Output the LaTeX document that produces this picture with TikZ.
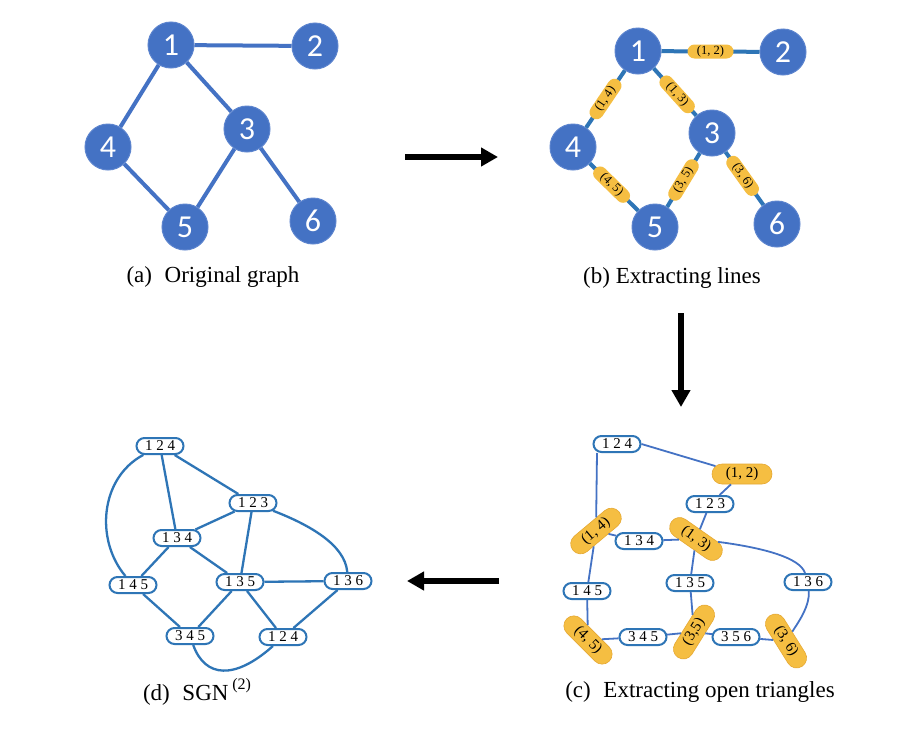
\documentclass[tikz,border=0pt]{standalone}
\usepackage{fontspec}
\setmainfont{Liberation Serif}
\newfontfamily\digitfont{Carlito}
\usetikzlibrary{shapes.misc,arrows.meta}
\definecolor{nodeblue}{RGB}{68,114,196}
\definecolor{noderim}{RGB}{92,132,206}
\definecolor{edgeblue}{RGB}{46,117,182}
\definecolor{pillgold}{RGB}{245,190,66}
\definecolor{pillgoldline}{RGB}{230,168,50}
\begin{document}
\begin{tikzpicture}[x=1pt,y=-1pt,
 vert/.style={circle,fill=nodeblue,draw=noderim,line width=1pt,minimum size=46pt,inner sep=0pt,text=white,font=\digitfont\fontsize{32}{32}\selectfont},
 gedge/.style={draw=nodeblue,line width=4pt},
 bedge/.style={draw=edgeblue,line width=4pt},
 bpill/.style={rounded rectangle,fill=pillgold,minimum width=46pt,minimum height=14pt,inner sep=0pt,font=\fontsize{12.5}{12.5}\selectfont},
 cpill/.style={rounded rectangle,fill=pillgold,draw=pillgoldline,line width=0.6pt,minimum width=60pt,minimum height=20pt,inner sep=0pt,font=\fontsize{15}{15}\selectfont},
 wpill/.style={rounded rectangle,fill=white,draw=edgeblue,line width=2pt,minimum width=47pt,minimum height=16pt,inner sep=0pt,font=\fontsize{15}{15}\selectfont},
 cline/.style={draw=nodeblue,line width=1.8pt},
 dline/.style={draw=edgeblue,line width=2.3pt},
 bigarrow/.style={draw=black,line width=6pt,-{Triangle[length=17pt,width=18pt]}},
 caption/.style={font=\fontsize{23}{23}\selectfont,inner sep=0pt}
]
\useasboundingbox[fill=white] (0,0) rectangle (922,750);

% ---------- (a) original graph ----------
\node[vert] (a1) at (171,45) {1};
\node[vert] (a2) at (315,46) {2};
\node[vert] (a3) at (247,129) {3};
\node[vert] (a4) at (108,147) {4};
\node[vert] (a5) at (185,227) {5};
\node[vert] (a6) at (313,221) {6};
\draw[gedge] (a1) -- (a2);
\draw[gedge] (a1) -- (a4);
\draw[gedge] (a1) -- (a3);
\draw[gedge] (a4) -- (a5);
\draw[gedge] (a3) -- (a5);
\draw[gedge] (a3) -- (a6);
\node[caption] (capa) at (213,277) {(a)\hspace{0.55em}Original graph};

% ---------- (b) extracting lines ----------
\node[vert] (b1) at (638,51) {1};
\node[vert] (b2) at (783,52) {2};
\node[vert] (b3) at (712,133) {3};
\node[vert] (b4) at (573,147) {4};
\node[vert] (b5) at (655,227) {5};
\node[vert] (b6) at (777,224) {6};
\draw[bedge] (b1) -- node[bpill] (l12) {(1, 2)} (b2);
\draw[bedge] (b1) -- node[bpill,sloped] (l14) {(1, 4)} (b4);
\draw[bedge] (b1) -- node[bpill,sloped,pos=0.55] (l13) {(1, 3)} (b3);
\draw[bedge] (b4) -- node[bpill,sloped,pos=0.45] (l45) {(4, 5)} (b5);
\draw[bedge] (b3) -- node[bpill,sloped] (l35) {(3, 5)} (b5);
\draw[bedge] (b3) -- node[bpill,sloped,pos=0.45] (l36) {(3, 6)} (b6);
\node[caption] (capb) at (672,278) {(b) Extracting lines};

% ---------- (c) extracting open triangles ----------
\node[wpill] (c124) at (617,444) {1 2 4};
\node[cpill] (c12) at (742,474) {(1, 2)};
\node[wpill] (c123) at (710,504) {1 2 3};
\node[cpill,rotate=40] (c14) at (596,531) {(1, 4)};
\node[wpill] (c134) at (639,541) {1 3 4};
\node[cpill,rotate=-35] (c13) at (696,539) {(1, 3)};
\node[wpill] (c145) at (587,591) {1 4 5};
\node[wpill] (c135) at (690,583) {1 3 5};
\node[wpill] (c136) at (808,582) {1 3 6};
\node[cpill,rotate=-45] (c45) at (588,640) {(4, 5)};
\node[wpill] (c345) at (643,637) {3 4 5};
\node[cpill,rotate=58] (c35) at (694,632) {(3,5)};
\node[wpill] (c356) at (736,637) {3 5 6};
\node[cpill,rotate=-58] (c36) at (786,641) {(3, 6)};
\draw[cline] (c124.east) -- (c12);
\draw[cline] ([xshift=-20pt]c124.south) -- (c14);
\draw[cline] (c12) -- (c123) -- (c13);
\draw[cline] (c14) -- (c134) -- (c13);
\draw[cline] (c14) -- (c145) -- (c45);
\draw[cline] (c13) -- (c135) -- (c35);
\draw[cline] (c13) .. controls (765,548) and (800,558) .. (c136);
\draw[cline] (c136) .. controls (810,605) and (800,620) .. (c36);
\draw[cline] (c45) -- (c345) -- (c35) -- (c356) -- (c36);
\node[caption] (capc) at (700,692) {(c)\hspace{0.55em}Extracting open triangles};

% ---------- (d) SGN ----------
\node[wpill] (d124a) at (160,446) {1 2 4};
\node[wpill] (d123) at (253,503) {1 2 3};
\node[wpill] (d134) at (177,538) {1 3 4};
\node[wpill] (d145) at (133,585) {1 4 5};
\node[wpill] (d135) at (240,582) {1 3 5};
\node[wpill] (d136) at (348,581) {1 3 6};
\node[wpill] (d345) at (190,636) {3 4 5};
\node[wpill] (d124b) at (283,637) {1 2 4};
\draw[dline] (d124a) .. controls (100,478) and (95,540) .. (d145);
\draw[dline] (d124a) -- (d134);
\draw[dline] (d124a) -- (d123);
\draw[dline] (d123) -- (d134);
\draw[dline] (d123) -- (d135);
\draw[dline] (d123) .. controls (310,525) and (345,545) .. (d136);
\draw[dline] (d134) -- (d145);
\draw[dline] (d134) -- (d135);
\draw[dline] (d135) -- (d136);
\draw[dline] (d135) -- (d345);
\draw[dline] (d135) -- (d124b);
\draw[dline] (d145) -- (d345);
\draw[dline] (d136) -- (d124b);
\draw[dline] (d345) .. controls (205,678) and (235,680) .. (d124b);
\node[caption] (capd) at (197,692) {(d)\hspace{0.55em}SGN\,\raisebox{0.5em}{\fontsize{16}{16}\selectfont(2)}};

% ---------- arrows ----------
\coordinate (r1s) at (405,157);
\coordinate (r1e) at (498,157);
\coordinate (r2s) at (681,313);
\coordinate (r2e) at (681,407);
\coordinate (r3s) at (499,581);
\coordinate (r3e) at (407,581);
\draw[bigarrow] (r1s) -- (r1e);
\draw[bigarrow] (r2s) -- (r2e);
\draw[bigarrow] (r3s) -- (r3e);
\end{tikzpicture}
\end{document}
